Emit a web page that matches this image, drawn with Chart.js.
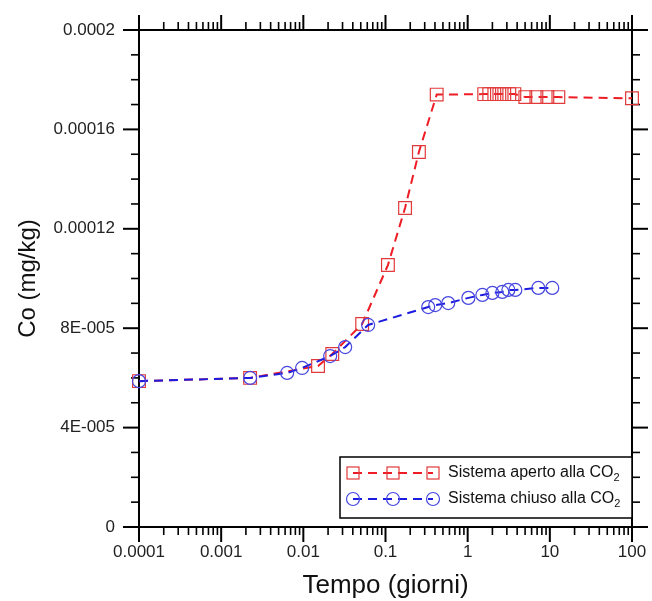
<!DOCTYPE html>
<html>
<head>
<meta charset="utf-8">
<script src="https://cdn.jsdelivr.net/npm/chart.js@4/dist/chart.umd.min.js"></script>
<style>
  body { margin: 0; background: #fff; }
  canvas { display: block; }
</style>
</head>
<body>
<canvas id="chart" width="652" height="601"></canvas>
<script>
// tempo in giorni, Co in mg/kg
const apertoTempo = [0.0001, 0.00225, 0.0151, 0.0225, 0.052, 0.107, 0.173, 0.255, 0.42,
  1.59, 1.83, 2.11, 2.43, 2.79, 3.21, 3.70, 5.03, 6.86, 9.33, 12.7, 100];
const apertoCo = [5.87e-5, 6.0e-5, 6.48e-5, 6.96e-5, 8.17e-5, 1.054e-4, 1.284e-4, 1.509e-4, 1.74e-4,
  1.742e-4, 1.742e-4, 1.742e-4, 1.742e-4, 1.742e-4, 1.742e-4, 1.742e-4, 1.73e-4, 1.73e-4, 1.73e-4, 1.73e-4, 1.725e-4];

const chiusoTempo = [0.0001, 0.00225, 0.00635, 0.00966, 0.0212, 0.0323, 0.0615, 0.331, 0.403, 0.58,
  1.02, 1.51, 2.0, 2.64, 3.13, 3.80, 7.24, 10.7];
const chiusoCo = [5.87e-5, 6.0e-5, 6.2e-5, 6.4e-5, 6.88e-5, 7.24e-5, 8.13e-5, 8.85e-5, 8.93e-5, 9.01e-5,
  9.22e-5, 9.34e-5, 9.42e-5, 9.46e-5, 9.54e-5, 9.54e-5, 9.62e-5, 9.62e-5];

const xTickValues = [0.0001, 0.001, 0.01, 0.1, 1, 10, 100];
const xTickLabels = ['0.0001', '0.001', '0.01', '0.1', '1', '10', '100'];
const yTickValues = [0, 4e-5, 8e-5, 1.2e-4, 1.6e-4, 2e-4];
const yTickLabels = ['0', '4E-005', '8E-005', '0.00012', '0.00016', '0.0002'];

const seriesNames = ['Sistema aperto alla CO', 'Sistema chiuso alla CO'];

const RED = '#ee1c25', RED_PT = '#e23a3a';
const BLUE = '#1c1ce0', BLUE_PT = '#4646e0';
const FONT = '"Liberation Sans", Arial, sans-serif';

function pts(xs, ys) {
  return xs.map((t, i) => ({ x: t, y: ys[i] }));
}

function drawSquare(ctx, x, y, s) {
  ctx.strokeRect(x - s / 2, y - s / 2, s, s);
}
function drawCircle(ctx, x, y, r) {
  ctx.beginPath();
  ctx.arc(x, y, r, 0, Math.PI * 2);
  ctx.stroke();
}

// cornice con tacche su tutti e quattro i lati
const frame = {
  id: 'frame',
  beforeDatasetsDraw(chart) {
    const { ctx, chartArea: a, scales: { x, y } } = chart;
    ctx.save();
    ctx.strokeStyle = '#000';
    const seg = (x1, y1, x2, y2, w) => {
      ctx.lineWidth = w;
      ctx.beginPath();
      ctx.moveTo(x1, y1);
      ctx.lineTo(x2, y2);
      ctx.stroke();
    };
    for (let e = -4; e <= 2; e++) {
      for (let m = 1; m <= 9; m++) {
        const v = m * Math.pow(10, e);
        if (v > 100) break;
        const px = x.getPixelForValue(v);
        const len = m === 1 ? 15 : 8;
        const w = m === 1 ? 2 : 1.6;
        seg(px, a.bottom, px, a.bottom + len, w);
        seg(px, a.top, px, a.top - len, w);
      }
    }
    for (let i = 0; i <= 20; i++) {
      const py = y.getPixelForValue(i * 1e-5);
      const len = i % 4 === 0 ? 16 : 8;
      const w = i % 4 === 0 ? 2 : 1.6;
      seg(a.left, py, a.left - len, py, w);
      seg(a.right, py, a.right + len, py, w);
    }
    ctx.lineWidth = 2;
    ctx.strokeRect(a.left, a.top, a.right - a.left, a.bottom - a.top);
    ctx.restore();
  }
};

const legendBox = {
  id: 'legendBox',
  afterDatasetsDraw(chart) {
    const { ctx, chartArea: a } = chart;
    const w = 292, h = 61;
    const left = a.right - w, top = a.bottom - h - 9;
    ctx.save();
    ctx.fillStyle = '#fff';
    ctx.fillRect(left, top, w, h);
    ctx.strokeStyle = '#000';
    ctx.lineWidth = 1.5;
    ctx.strokeRect(left, top, w, h);

    const rows = [
      { y: top + 16, line: RED, pt: RED_PT, kind: 'rect' },
      { y: top + 42, line: BLUE, pt: BLUE_PT, kind: 'circle' }
    ];
    rows.forEach((r, i) => {
      const x0 = left + 13, x1 = left + 93;
      ctx.strokeStyle = r.line;
      ctx.lineWidth = 2;
      ctx.setLineDash([9, 6]);
      ctx.beginPath();
      ctx.moveTo(x0, r.y);
      ctx.lineTo(x1, r.y);
      ctx.stroke();
      ctx.setLineDash([]);
      ctx.strokeStyle = r.pt;
      ctx.lineWidth = 1.2;
      [x0, (x0 + x1) / 2, x1].forEach(px => {
        if (r.kind === 'rect') drawSquare(ctx, px, r.y, 12);
        else drawCircle(ctx, px, r.y, 6.5);
      });
      ctx.fillStyle = '#111';
      ctx.font = '16px ' + FONT;
      ctx.textBaseline = 'middle';
      ctx.textAlign = 'left';
      const tx = left + 108;
      ctx.fillText(seriesNames[i], tx, r.y);
      const tw = ctx.measureText(seriesNames[i]).width;
      ctx.font = '11px ' + FONT;
      ctx.fillText('2', tx + tw, r.y + 5);
    });
    ctx.restore();
  }
};

new Chart(document.getElementById('chart'), {
  type: 'line',
  data: {
    datasets: [
      {
        label: seriesNames[0] + '2',
        data: pts(apertoTempo, apertoCo),
        borderColor: RED,
        borderWidth: 2,
        borderDash: [9, 6],
        pointStyle: 'rect',
        pointRadius: 9,
        pointBorderColor: RED_PT,
        pointBorderWidth: 1.2,
        pointBackgroundColor: 'rgba(0,0,0,0)',
        fill: false,
        tension: 0,
        clip: false,
        order: 2
      },
      {
        label: seriesNames[1] + '2',
        data: pts(chiusoTempo, chiusoCo),
        borderColor: BLUE,
        borderWidth: 2,
        borderDash: [9, 6],
        pointStyle: 'circle',
        pointRadius: 6.5,
        pointBorderColor: BLUE_PT,
        pointBorderWidth: 1.2,
        pointBackgroundColor: 'rgba(0,0,0,0)',
        fill: false,
        tension: 0,
        clip: false,
        order: 1
      }
    ]
  },
  options: {
    responsive: false,
    animation: false,
    devicePixelRatio: 1,
    layout: { padding: { top: 30, right: 20, left: 0, bottom: 0 } },
    plugins: {
      legend: { display: false },
      tooltip: { enabled: false }
    },
    scales: {
      x: {
        type: 'logarithmic',
        min: 0.0001,
        max: 100,
        afterBuildTicks: s => { s.ticks = xTickValues.map(v => ({ value: v })); },
        afterFit: s => { s.height = 74; s.paddingLeft = 0; s.paddingRight = 0; },
        grid: { display: false, drawTicks: false },
        border: { display: false },
        ticks: {
          autoSkip: false,
          maxRotation: 0,
          padding: 15,
          color: '#222',
          font: { family: FONT, size: 17 },
          callback: (v, i) => xTickLabels[i]
        },
        title: {
          display: true,
          text: 'Tempo (giorni)',
          color: '#111',
          font: { family: FONT, size: 26 },
          padding: { top: 0, bottom: 0 }
        }
      },
      y: {
        type: 'linear',
        min: 0,
        max: 0.0002,
        afterBuildTicks: s => { s.ticks = yTickValues.map(v => ({ value: v })); },
        afterFit: s => { s.width = 139; s.paddingTop = 0; s.paddingBottom = 0; },
        grid: { display: false, drawTicks: false },
        border: { display: false },
        ticks: {
          padding: 24,
          color: '#222',
          font: { family: FONT, size: 17 },
          callback: (v, i) => yTickLabels[i]
        },
        title: {
          display: true,
          text: 'Co (mg/kg)',
          color: '#111',
          font: { family: FONT, size: 24 },
          padding: { top: 14, bottom: 0 }
        }
      }
    }
  },
  plugins: [frame, legendBox]
});
</script>
</body>
</html>
